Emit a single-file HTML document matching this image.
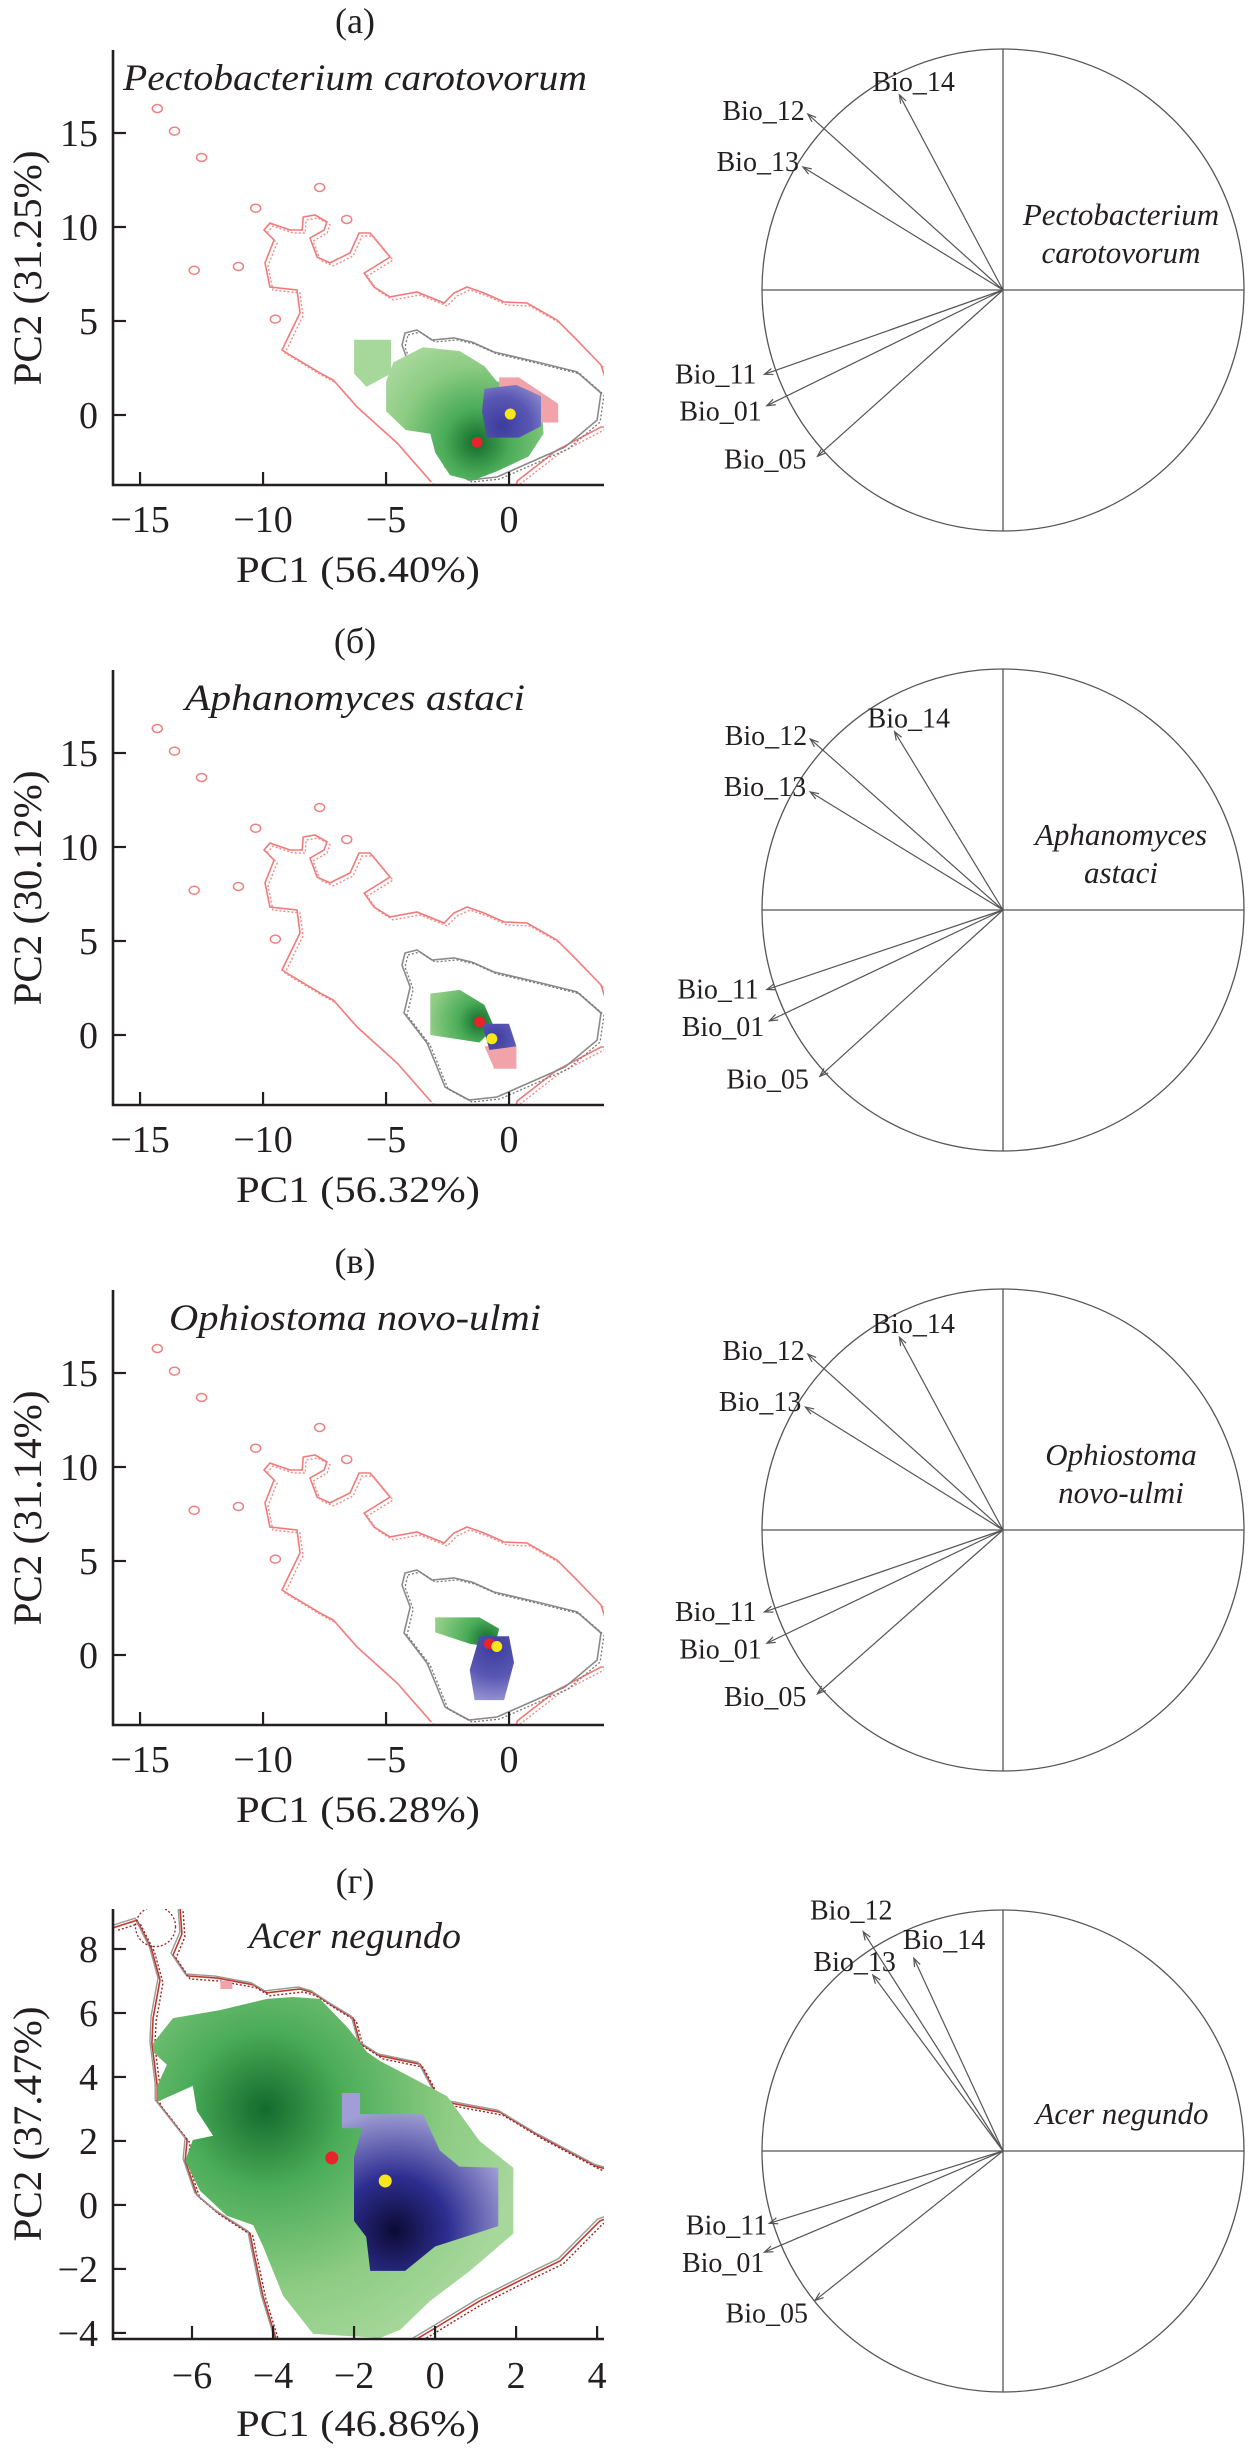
<!DOCTYPE html>
<html><head><meta charset="utf-8"><style>
html,body{margin:0;padding:0;background:#fff}
svg{display:block}
text{font-family:"Liberation Serif",serif;fill:#231f20}
</style></head><body>
<svg id="fig" xmlns="http://www.w3.org/2000/svg" width="1256" height="2450" viewBox="0 0 1256 2450">
<defs id="defs"></defs>
</svg>
<script>
// ---------- data (PC1, PC2 units) ----------
const redContour = [[-3.17,-3.56],[-4.55,-1.49],[-6.18,0.43],[-7.15,1.86],[-7.68,2.23],[-8.9,3.19],[-9.23,3.46],[-8.5,5.43],[-8.62,6.65],[-9.72,6.81],[-9.92,8.09],[-9.55,9.31],[-9.96,9.84],[-9.72,10.21],[-8.9,9.84],[-8.41,9.84],[-8.37,10.53],[-7.89,10.64],[-7.4,10.27],[-7.52,9.84],[-8.09,9.41],[-7.8,8.4],[-7.28,8.09],[-6.46,8.62],[-6.1,9.68],[-5.65,9.68],[-4.84,8.4],[-5.49,7.87],[-5.89,7.55],[-5.49,6.81],[-4.84,6.28],[-3.74,6.54],[-2.64,5.96],[-2.24,6.49],[-1.71,6.81],[-1.02,6.49],[-0.2,6.01],[0.73,5.96],[1.95,5.05],[2.76,3.99],[3.74,2.66],[3.9,2.0],[3.9,-0.64],[3.74,-0.64],[1.95,-1.86],[0.33,-3.51],[0.2,-4.2],[-3.2,-4.2]];
const redIslands = [[-14.3,16.3],[-13.6,15.1],[-12.5,13.7],[-7.7,12.1],[-10.3,11.0],[-6.6,10.4],[-12.8,7.7],[-11.0,7.9],[-9.5,5.1]];
const grayContour = [[-4.23,4.36],[-3.74,4.52],[-3.13,3.99],[-2.24,4.1],[-1.5,3.88],[-0.61,3.35],[1.14,2.82],[2.76,2.29],[3.74,1.17],[3.58,-0.27],[2.28,-1.7],[0.81,-2.55],[-0.49,-3.3],[-1.63,-3.46],[-2.6,-2.77],[-2.93,-1.7],[-3.33,-0.43],[-3.74,0.27],[-4.27,1.17],[-4.02,2.55],[-4.35,3.72]];

const greenA = [[-4.7,2.8],[-3.5,3.6],[-2,3.4],[-1,2.6],[-0.5,1.8],[1.3,1.2],[1.4,-1.0],[0.8,-2.2],[-0.5,-3.0],[-1.5,-3.5],[-2.4,-3.2],[-3.0,-2.0],[-3.2,-1.0],[-4.2,-0.8],[-5.0,0.2],[-5.0,1.8]];
const greenA2 = [[-6.3,4.0],[-4.8,4.0],[-4.8,2.2],[-5.8,1.5],[-6.3,2.2]];
const blueA = [[-1.0,1.4],[0.3,1.6],[1.3,1.0],[1.3,-0.6],[0.4,-1.2],[-0.9,-1.2],[-1.1,0.2]];
const pinkA = [[-0.4,2.0],[0.4,2.0],[2.0,0.6],[2.0,-0.4],[1.3,-0.4],[1.3,1.0],[0.3,1.6],[-0.4,1.4]];
const redDotA = [-1.3,-1.45], yellowDotA = [0.05,0.05];

const greenB = [[-3.2,2.2],[-2.0,2.4],[-1.0,1.6],[-0.6,0.4],[-1.2,-0.4],[-3.2,0.0]];
const blueB = [[-1.1,0.6],[0.0,0.6],[0.3,-0.6],[-0.8,-0.8]];
const pinkB = [[-1.0,-0.6],[0.3,-0.6],[0.3,-1.8],[-0.6,-1.8]];
const redDotB = [-1.2,0.7], yellowDotB = [-0.7,-0.2];

const greenC = [[-3.0,2.0],[-1.2,2.0],[-0.4,1.4],[-0.6,0.4],[-1.6,0.6],[-3.0,1.2]];
const blueC = [[-1.2,1.0],[0.0,1.0],[0.2,-0.4],[-0.2,-2.4],[-1.4,-2.4],[-1.6,-0.8]];
const redDotC = [-0.8,0.6], yellowDotC = [-0.5,0.45];

const redD1 = [[-3.9,-4.3],[-4.25,-2.84],[-4.49,-1.41],[-4.57,-0.88],[-5.38,-0.22],[-5.88,0.31],[-6.17,1.38],[-6.12,2.03],[-6.86,3.22],[-6.86,3.72],[-6.99,5.06],[-6.96,5.84],[-6.79,7.03],[-7.0,8.0],[-7.36,8.9],[-7.95,8.66]];
const redD2 = [[-6.3,9.4],[-6.25,8.47],[-6.47,7.81],[-6.12,7.16],[-5.38,7.09],[-4.49,6.88],[-4.15,6.63],[-3.33,6.75],[-3.01,6.63],[-2.52,6.22],[-2.02,5.84],[-1.85,5.06],[-1.36,4.66],[-0.37,4.4],[0.12,3.25],[1.6,2.9],[2.57,2.16],[4.0,1.2],[4.3,1.1]];
const redD3 = [[4.3,-0.4],[4.07,-0.5],[3.09,-1.75],[2.35,-2.2],[1.1,-3.0],[-0.12,-3.94],[-0.6,-4.3]];
const greenD = [[-6.96,5.06],[-6.47,5.84],[-5.31,6.09],[-4.15,6.44],[-3.51,6.5],[-2.84,6.44],[-2.17,5.56],[-1.68,4.78],[-1.36,4.5],[0.3,3.4],[1.1,2.0],[1.93,1.16],[1.93,-0.9],[0.86,-2.06],[-0.12,-3.0],[-0.86,-3.9],[-1.36,-4.16],[-3.01,-4.03],[-3.75,-2.84],[-4.25,-1.28],[-4.49,-0.63],[-5.14,-0.34],[-5.8,0.44],[-6.17,1.38],[-5.98,2.03],[-5.48,2.16],[-5.88,2.94],[-5.98,3.72],[-6.86,3.22],[-6.86,3.72],[-6.62,4.38],[-6.96,4.78]];
const blueD = [[-2.3,3.5],[-1.85,3.5],[-1.85,2.84],[-0.3,2.84],[0.12,1.7],[0.6,1.2],[1.56,1.16],[1.56,-0.66],[0.0,-1.3],[-0.74,-2.06],[-1.6,-2.06],[-1.7,-1.0],[-2.0,-0.5],[-2.0,1.5],[-1.8,2.4],[-2.3,2.4]];
const redDotD = [-2.55,1.47], yellowDotD = [-1.23,0.75];

// loadings (correlation circle units)
const bioNames = ['Bio_14','Bio_12','Bio_13','Bio_11','Bio_01','Bio_05'];
const loadA = [[-0.43,0.81],[-0.81,0.73],[-0.83,0.51],[-0.99,-0.35],[-0.98,-0.48],[-0.77,-0.69]];
const loadB = [[-0.45,0.74],[-0.80,0.71],[-0.80,0.49],[-0.98,-0.33],[-0.97,-0.46],[-0.76,-0.69]];
const loadC = [[-0.43,0.80],[-0.81,0.73],[-0.82,0.51],[-0.99,-0.34],[-0.98,-0.47],[-0.77,-0.68]];
const loadD = [[-0.37,0.80],[-0.58,0.91],[-0.54,0.73],[-0.97,-0.30],[-0.99,-0.42],[-0.78,-0.62]];

const xTicksABC = [-15,-10,-5,0], yTicksABC = [0,5,10,15];
const xTicksD = [-6,-4,-2,0,2,4], yTicksD = [-4,-2,0,2,4,6,8];

// ---------- drawing ----------
const NS='http://www.w3.org/2000/svg';
const svg=document.getElementById('fig');
const defs=document.getElementById('defs');
function mk(tag,attrs,parent,name,inter){
  const el=document.createElementNS(NS,tag);
  for(const k in attrs) el.setAttribute(k,attrs[k]);
  
  
  (parent||svg).appendChild(el);
  return el;
}
function txt(str,attrs,parent,name){
  const t=mk('text',attrs,parent,name,false);
  t.textContent=str;
  return t;
}
function pathOf(pts,sx,sy,close){
  return pts.map((p,i)=>(i?'L':'M')+sx(p[0]).toFixed(1)+','+sy(p[1]).toFixed(1)).join('')+(close?'Z':'');
}
function linear(d0,d1,r0,r1){return v=>r0+(v-d0)*(r1-r0)/(d1-d0);}

function drawScatter(cfg){
  const g=mk('g',{},svg,'niche-panel-'+cfg.id,false);
  const sx=linear(cfg.xd[0],cfg.xd[1],cfg.L,cfg.R);
  const sy=linear(cfg.yd[0],cfg.yd[1],cfg.B,cfg.T);
  const cid='clip'+cfg.id;
  const cp=mk('clipPath',{id:cid},defs,'plot-clip',false);
  mk('rect',{x:cfg.L,y:cfg.T,width:cfg.R-cfg.L,height:cfg.B-cfg.T},cp,'clip-rect',false);
  const pg=mk('g',{'clip-path':'url(#'+cid+')'},g,'plot-area',false);
  const gg=mk('radialGradient',{id:'gg'+cfg.id,gradientUnits:'userSpaceOnUse',cx:sx(cfg.gc[0]),cy:sy(cfg.gc[1]),r:cfg.gr},defs,'green-gradient',false);
  mk('stop',{offset:0,'stop-color':'#136b2c'},gg,'stop',false);
  mk('stop',{offset:0.3,'stop-color':'#4aac58'},gg,'stop',false);
  mk('stop',{offset:0.7,'stop-color':'#8dcc83'},gg,'stop',false);
  mk('stop',{offset:1,'stop-color':'#a6d79b'},gg,'stop',false);
  const bg=mk('radialGradient',{id:'bg'+cfg.id,gradientUnits:'userSpaceOnUse',cx:sx(cfg.bc[0]),cy:sy(cfg.bc[1]),r:cfg.br},defs,'blue-gradient',false);
  cfg.blueStops.forEach(s=>mk('stop',{offset:s[0],'stop-color':s[1]},bg,'stop',false));
  cfg.reds.forEach(c=>{
    mk('path',{d:pathOf(c,sx,sy,false),fill:'none',stroke:cfg.redCol,'stroke-width':1.6},pg,'background-contour',false);
    mk('path',{d:pathOf(c,sx,sy,false),fill:'none',stroke:cfg.redDot,'stroke-width':1.4,'stroke-dasharray':'2 2',transform:'translate(3,3)'},pg,'background-contour-dotted',false);
  });
  if(cfg.grayShift) cfg.reds.forEach(c=>{
    mk('path',{d:pathOf(c,sx,sy,false),fill:'none',stroke:'#999','stroke-width':1.4,transform:'translate(-2,-2)'},pg,'species-contour',false);
  });
  (cfg.islands||[]).forEach(p=>{
    mk('ellipse',{cx:sx(p[0]),cy:sy(p[1]),rx:5,ry:4,fill:'none',stroke:'#f08080','stroke-width':1.5},pg,'contour-island',false);
  });
  (cfg.loops||[]).forEach(p=>{
    mk('circle',{cx:sx(p[0]),cy:sy(p[1]),r:p[2],fill:'none',stroke:'#9b2222','stroke-width':1.3,'stroke-dasharray':'2 2'},pg,'contour-loop',false);
  });
  if(cfg.gray){
    mk('path',{d:pathOf(cfg.gray,sx,sy,true),fill:'none',stroke:'#8a8a8a','stroke-width':1.6},pg,'species-contour',false);
    mk('path',{d:pathOf(cfg.gray,sx,sy,true),fill:'none',stroke:'#777','stroke-width':1.3,'stroke-dasharray':'2 2',transform:'translate(3,2)'},pg,'species-contour-dotted',false);
  }
  cfg.greens.forEach(p=>mk('path',{d:pathOf(p,sx,sy,true),fill:'url(#gg'+cfg.id+')'},pg,'native-niche-density',false));
  if(cfg.pink) mk('path',{d:pathOf(cfg.pink,sx,sy,true),fill:'#f2a3aa'},pg,'invaded-niche-unfilled',false);
  if(cfg.blue) mk('path',{d:pathOf(cfg.blue,sx,sy,true),fill:'url(#bg'+cfg.id+')'},pg,'invaded-niche-density',false);
  (cfg.extra||[]).forEach(e=>mk('rect',{x:sx(e[0]),y:sy(e[1]),width:12,height:8,fill:'#f2a3aa'},pg,'niche-fragment',false));
  mk('circle',{cx:sx(cfg.rd[0]),cy:sy(cfg.rd[1]),r:cfg.dotR,fill:'#e8232b'},pg,'native-centroid',false);
  mk('circle',{cx:sx(cfg.yd2[0]),cy:sy(cfg.yd2[1]),r:cfg.dotR,fill:'#f6e61a'},pg,'invaded-centroid',false);
  mk('path',{d:`M${cfg.L},${cfg.T}V${cfg.B}H${cfg.R}`,fill:'none',stroke:'#231f20','stroke-width':2.6},g,'axes-frame',false);
  cfg.xt.forEach(v=>{
    mk('line',{x1:sx(v),x2:sx(v),y1:cfg.B,y2:cfg.B-13,stroke:'#231f20','stroke-width':2.2},g,'x-tick',false);
    const s=(v<0?'\u2212':'')+Math.abs(v);
    txt(s,{x:sx(v),y:cfg.B+cfg.xlOff,'text-anchor':'middle','font-size':cfg.tfs},g,'x-tick-label');
  });
  cfg.yt.forEach(v=>{
    mk('line',{x1:cfg.L,x2:cfg.L+13,y1:sy(v),y2:sy(v),stroke:'#231f20','stroke-width':2.2},g,'y-tick',false);
    const s=(v<0?'\u2212':'')+Math.abs(v);
    txt(s,{x:98,y:sy(v)+13,'text-anchor':'end','font-size':cfg.tfs},g,'y-tick-label');
  });
  txt(cfg.xlab,{x:358,y:cfg.B+97,'text-anchor':'middle','font-size':37,textLength:244,lengthAdjust:'spacingAndGlyphs'},g,'x-axis-title');
  txt(cfg.ylab,{x:0,y:0,'text-anchor':'middle','font-size':40,textLength:235,lengthAdjust:'spacingAndGlyphs',transform:`translate(41,${cfg.ylc}) rotate(-90)`},g,'y-axis-title');
  txt(cfg.panel,{x:355,y:cfg.panelY,'text-anchor':'middle','font-size':36},g,'panel-label');
  txt(cfg.species,{x:355,y:cfg.speciesY,'text-anchor':'middle','font-size':37,'font-style':'italic',textLength:cfg.speciesW,lengthAdjust:'spacingAndGlyphs'},g,'species-title');
}

function drawCircle(cfg){
  const g=mk('g',{},svg,'correlation-circle-'+cfg.id,false);
  const cx=1003, cy=cfg.cy, r=241;
  mk('circle',{cx:cx,cy:cy,r:r,fill:'none',stroke:'#555','stroke-width':1.3},g,'unit-circle',false);
  mk('line',{x1:cx-r,x2:cx+r,y1:cy,y2:cy,stroke:'#555','stroke-width':1.3},g,'horizontal-axis',false);
  mk('line',{x1:cx,x2:cx,y1:cy-r,y2:cy+r,stroke:'#555','stroke-width':1.3},g,'vertical-axis',false);
  cfg.load.forEach((l,i)=>{
    const tx=cx+l[0]*r, ty=cy-l[1]*r;
    mk('line',{x1:cx,y1:cy,x2:tx,y2:ty,stroke:'#555','stroke-width':1.2},g,'loading-arrow-'+bioNames[i].toLowerCase(),false);
    const a=Math.atan2(ty-cy,tx-cx), h=9;
    const p1=[tx-h*Math.cos(a-0.35),ty-h*Math.sin(a-0.35)], p2=[tx-h*Math.cos(a+0.35),ty-h*Math.sin(a+0.35)];
    mk('path',{d:`M${p1[0]},${p1[1]}L${tx},${ty}L${p2[0]},${p2[1]}`,fill:'none',stroke:'#555','stroke-width':1.2},g,'arrow-head',false);
    const o=cfg.lab[i];
    txt(bioNames[i],{x:tx+o[0],y:ty+o[1],'text-anchor':o[2],'font-size':28},g,'loading-label');
  });
  cfg.txt.forEach((s,i)=>txt(s,{x:cfg.tx,y:cy+cfg.ty[i],'text-anchor':'middle','font-size':31,'font-style':'italic'},g,'circle-species-name'));
}

const labStd=[[-27,-4,'start'],[-3,6,'end'],[-4,4,'end'],[-8,9,'end'],[-5,15,'end'],[-11,12,'end']];
const labD=[[-11,-9,'start'],[-12,-12,'middle'],[23,-4,'end'],[-2,11,'end'],[0,20,'end'],[-7,22,'end']];
const blueLight=[[0,'#3c3c9e'],[0.5,'#5a58b4'],[1,'#a4a2d6']];
const blueDark=[[0,'#0b0b35'],[0.45,'#2e2e92'],[1,'#a09ed4']];

const abc=[
 {id:'a',oy:0,panel:'(a)',species:'Pectobacterium carotovorum',sw:464,xlab:'PC1 (56.40%)',ylab:'PC2 (31.25%)',greens:[greenA,greenA2],blue:blueA,pink:pinkA,rd:redDotA,yd:yellowDotA,gc:redDotA,gr:110,bc:[-0.3,-0.6],br:60,load:loadA,ct:['Pectobacterium','carotovorum']},
 {id:'b',oy:620,panel:'(б)',species:'Aphanomyces astaci',sw:340,xlab:'PC1 (56.32%)',ylab:'PC2 (30.12%)',greens:[greenB],blue:blueB,pink:pinkB,rd:redDotB,yd:yellowDotB,gc:[-1.2,0.7],gr:70,bc:[-0.6,-0.2],br:40,load:loadB,ct:['Aphanomyces','astaci']},
 {id:'c',oy:1240,panel:'(в)',species:'Ophiostoma novo-ulmi',sw:372,xlab:'PC1 (56.28%)',ylab:'PC2 (31.14%)',greens:[greenC],blue:blueC,pink:null,rd:redDotC,yd:yellowDotC,gc:[-0.9,0.8],gr:70,bc:[-0.6,0.4],br:60,load:loadC,ct:['Ophiostoma','novo-ulmi']}
];
abc.forEach(p=>{
  drawScatter({id:p.id,L:113,R:604,T:p.oy+50,B:p.oy+485,
    xd:[-16.1,3.86],yd:[-70/18.8,365/18.8],
    reds:[redContour],redCol:'#f07a7a',redDot:'#f28a8a',islands:redIslands,gray:grayContour,
    greens:p.greens,blue:p.blue,pink:p.pink,rd:p.rd,yd2:p.yd,gc:p.gc,gr:p.gr,bc:p.bc,br:p.br,blueStops:blueLight,dotR:5.5,
    xt:xTicksABC,yt:yTicksABC,tfs:38,xlOff:47,
    xlab:p.xlab,ylab:p.ylab,ylc:p.oy+268,panel:p.panel,panelY:p.oy+33,species:p.species,speciesY:p.oy+90,speciesW:p.sw});
  drawCircle({id:p.id,cy:p.oy+290,load:p.load,lab:labStd,txt:p.ct,tx:1121,ty:[-65,-27]});
});
drawScatter({id:'d',L:113,R:604,T:1909,B:2339,xd:[-7.95,4.17],yd:[-4.19,9.25],
  reds:[redD1,redD2,redD3],redCol:'#c0392b',redDot:'#9b2222',grayShift:true,islands:[],loops:[[-6.9,8.7,20]],gray:null,
  greens:[greenD],blue:blueD,pink:null,extra:[[-5.3,7.0]],rd:redDotD,yd2:yellowDotD,gc:[-4.2,3.0],gr:260,bc:[-1.0,-0.8],br:120,blueStops:blueDark,dotR:6.5,
  xt:xTicksD,yt:yTicksD,tfs:38,xlOff:49,
  xlab:'PC1 (46.86%)',ylab:'PC2 (37.47%)',ylc:2124,panel:'(г)',panelY:1893,species:'Acer negundo',speciesY:1948,speciesW:212});
drawCircle({id:'d',cy:2151,load:loadD,lab:labD,txt:['Acer negundo'],tx:1122,ty:[-27]});
</script>
</body></html>
